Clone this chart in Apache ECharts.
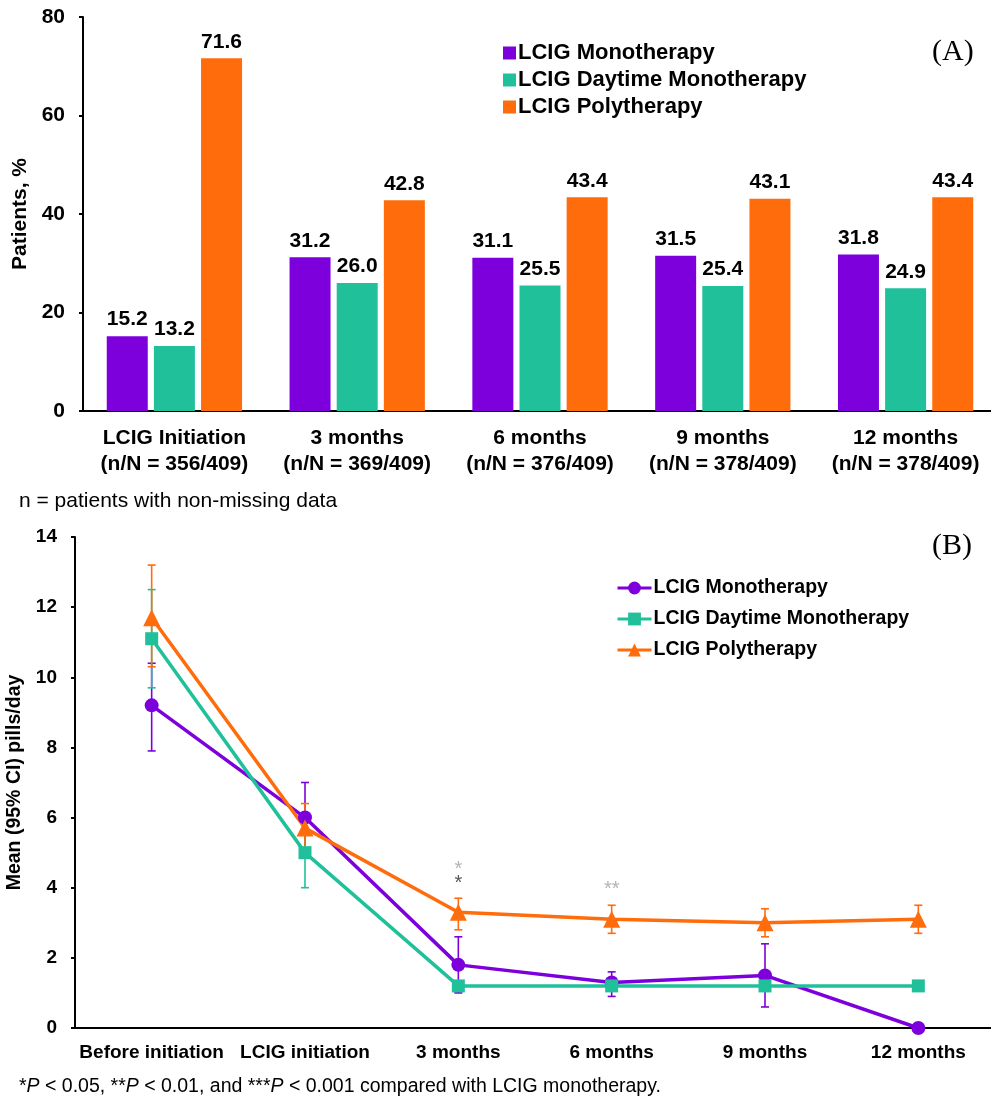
<!DOCTYPE html>
<html>
<head>
<meta charset="utf-8">
<script src="https://cdn.jsdelivr.net/npm/echarts@6/dist/echarts.min.js"></script>
<style>
  html, body { margin: 0; padding: 0; background: #fff; }
  #top { position: absolute; left: 0; top: 0; width: 991px; height: 520px; }
  #bottom { position: absolute; left: 0; top: 520px; width: 991px; height: 580px; }
</style>
</head>
<body>
<div id="top"></div>
<div id="bottom"></div>
<script>
// ---------- Panel A data ----------
const seriesNames = ['LCIG Monotherapy', 'LCIG Daytime Monotherapy', 'LCIG Polytherapy'];
const barCategories = ['LCIG Initiation', '3 months', '6 months', '9 months', '12 months'];
const barSubLabels = ['(n/N = 356/409)', '(n/N = 369/409)', '(n/N = 376/409)', '(n/N = 378/409)', '(n/N = 378/409)'];
const monoPct = [15.2, 31.2, 31.1, 31.5, 31.8];
const dayPct = [13.2, 26.0, 25.5, 25.4, 24.9];
const polyPct = [71.6, 42.8, 43.4, 43.1, 43.4];
const pctTicks = [0, 20, 40, 60, 80];

// ---------- Panel B data ----------
const timepoints = ['Before initiation', 'LCIG initiation', '3 months', '6 months', '9 months', '12 months'];
const monoMean = [9.2, 6.0, 1.8, 1.3, 1.5, 0.0];
const monoLow  = [7.9, 5.0, 1.0, 0.9, 0.6, 0.0];
const monoHigh = [10.4, 7.0, 2.6, 1.6, 2.4, 0.0];
const dayMean = [11.1, 5.0, 1.2, 1.2, 1.2, 1.2];
const dayLow  = [9.7, 4.0, 1.2, 1.2, 1.2, 1.2];
const dayHigh = [12.5, 6.0, 1.2, 1.2, 1.2, 1.2];
const polyMean = [11.7, 5.7, 3.3, 3.1, 3.0, 3.1];
const polyLow  = [10.3, 5.0, 2.8, 2.7, 2.6, 2.7];
const polyHigh = [13.2, 6.4, 3.7, 3.5, 3.4, 3.5];
const pillTicks = [0, 2, 4, 6, 8, 10, 12, 14];
// significance markers: [timepoint index, value position, text, shade]
const sigMarks = [
  [2, 4.65, '*', 'light'],
  [2, 4.25, '*', 'dark'],
  [3, 4.08, '**', 'light']
];

const COLORS = ['#7d00dc', '#20c09a', '#ff6c0c'];
const FONT = '"Liberation Sans", Arial, Helvetica, sans-serif';

// ---------------- Chart A ----------------
const chartA = echarts.init(document.getElementById('top'), null, { renderer: 'canvas' });
const barLabel = {
  show: true, position: 'top', distance: 6, color: '#000',
  fontFamily: FONT, fontWeight: 'bold', fontSize: 21,
  formatter: p => p.value.toFixed(1)
};
chartA.setOption({
  animation: false,
  textStyle: { fontFamily: FONT },
  grid: { left: 83, top: 17, width: 914, height: 394, outerBoundsMode: 'none', containLabel: false },
  legend: {
    left: 498, top: 37, orient: 'vertical', itemWidth: 13, itemHeight: 13, itemGap: 5,
    icon: 'rect', selectedMode: false,
    textStyle: { fontFamily: FONT, fontWeight: 'bold', fontSize: 22, lineHeight: 22, color: '#000', padding: [0, 0, 0, -3] },
    data: seriesNames
  },
  xAxis: {
    type: 'category', data: barCategories.map((c, i) => c + '\n' + barSubLabels[i]),
    axisLine: { lineStyle: { color: '#000', width: 2 } },
    axisTick: { alignWithLabel: true, length: 5, lineStyle: { color: '#000', width: 2 } },
    axisLabel: { interval: 0, margin: 14, color: '#000', fontFamily: FONT, fontWeight: 'bold', fontSize: 21, lineHeight: 26 }
  },
  yAxis: {
    type: 'value', min: pctTicks[0], max: pctTicks[pctTicks.length - 1], interval: 20,
    name: 'Patients, %', nameLocation: 'middle', nameGap: 45,
    nameTextStyle: { color: '#000', fontFamily: FONT, fontWeight: 'bold', fontSize: 21 },
    axisLine: { show: true, lineStyle: { color: '#000', width: 2 } },
    axisTick: { show: true, length: 4, lineStyle: { color: '#000', width: 2 } },
    splitLine: { show: false },
    axisLabel: { margin: 18, color: '#000', fontFamily: FONT, fontWeight: 'bold', fontSize: 21 }
  },
  series: [
    { name: seriesNames[0], type: 'bar', data: monoPct, barWidth: 41, barGap: '15%', itemStyle: { color: COLORS[0] }, label: barLabel },
    { name: seriesNames[1], type: 'bar', data: dayPct, barWidth: 41, barGap: '15%', itemStyle: { color: COLORS[1] }, label: barLabel },
    { name: seriesNames[2], type: 'bar', data: polyPct, barWidth: 41, barGap: '15%', itemStyle: { color: COLORS[2] }, label: barLabel }
  ],
  graphic: [
    { type: 'text', left: 932, top: 37, style: { text: '(A)', fill: '#000', font: '30px "Liberation Serif", "Times New Roman", serif' } },
    { type: 'text', left: 19, top: 491, style: { text: 'n = patients with non-missing data', fill: '#000', font: '21px ' + FONT } }
  ]
});

// ---------------- Chart B ----------------
const chartB = echarts.init(document.getElementById('bottom'), null, { renderer: 'canvas' });

function errorSeries(low, high, color) {
  const data = low.map((l, i) => [i, l, high[i]]).filter(d => d[2] - d[1] > 0.05);
  return {
    type: 'custom', data: data, z: 2, silent: true, clip: false,
    encode: { x: 0, y: [1, 2] },
    renderItem: function (params, api) {
      const x = api.value(0);
      const lo = api.coord([x, api.value(1)]);
      const hi = api.coord([x, api.value(2)]);
      const cap = 4;
      const st = { stroke: color, lineWidth: 1.6 };
      return {
        type: 'group',
        children: [
          { type: 'line', shape: { x1: lo[0], y1: lo[1], x2: hi[0], y2: hi[1] }, style: st },
          { type: 'line', shape: { x1: lo[0] - cap, y1: lo[1], x2: lo[0] + cap, y2: lo[1] }, style: st },
          { type: 'line', shape: { x1: hi[0] - cap, y1: hi[1], x2: hi[0] + cap, y2: hi[1] }, style: st }
        ]
      };
    }
  };
}

function lineSeries(name, data, color, symbol, size) {
  return {
    name: name, type: 'line', data: data, symbol: symbol, symbolSize: size, showSymbol: true,
    clip: false, z: 3,
    lineStyle: { color: color, width: 3.5 },
    itemStyle: { color: color }
  };
}

chartB.setOption({
  animation: false,
  textStyle: { fontFamily: FONT },
  grid: { left: 75, top: 17, width: 920, height: 491, outerBoundsMode: 'none', containLabel: false },
  legend: {
    left: 611, top: 53, orient: 'vertical', itemWidth: 34, itemHeight: 16, itemGap: 11,
    selectedMode: false,
    lineStyle: { width: 3 },
    textStyle: { fontFamily: FONT, fontWeight: 'bold', fontSize: 19.5, lineHeight: 20, color: '#000', padding: [0, 0, 0, -3] },
    data: seriesNames
  },
  xAxis: {
    type: 'category', data: timepoints, boundaryGap: true,
    axisLine: { lineStyle: { color: '#000', width: 2 } },
    axisTick: { alignWithLabel: true, length: 4, lineStyle: { color: '#000', width: 2 } },
    axisLabel: { interval: 0, margin: 15, color: '#000', fontFamily: FONT, fontWeight: 'bold', fontSize: 19 }
  },
  yAxis: {
    type: 'value', min: pillTicks[0], max: pillTicks[pillTicks.length - 1], interval: 2,
    name: 'Mean (95% CI) pills/day', nameLocation: 'middle', nameGap: 38,
    nameTextStyle: { color: '#000', fontFamily: FONT, fontWeight: 'bold', fontSize: 19.5 },
    axisLine: { show: true, lineStyle: { color: '#000', width: 2 } },
    axisTick: { show: true, length: 4, lineStyle: { color: '#000', width: 2 } },
    splitLine: { show: false },
    axisLabel: { margin: 18, color: '#000', fontFamily: FONT, fontWeight: 'bold', fontSize: 19 }
  },
  series: [
    errorSeries(monoLow, monoHigh, COLORS[0]),
    errorSeries(dayLow, dayHigh, COLORS[1]),
    errorSeries(polyLow, polyHigh, COLORS[2]),
    lineSeries(seriesNames[0], monoMean, COLORS[0], 'circle', 14),
    lineSeries(seriesNames[1], dayMean, COLORS[1], 'rect', 13),
    lineSeries(seriesNames[2], polyMean, COLORS[2], 'triangle', 17),
    {
      type: 'custom', data: sigMarks, silent: true, z: 4, clip: false,
      encode: { x: 0, y: 1 },
      renderItem: function (params, api) {
        const d = sigMarks[params.dataIndex];
        const p = api.coord([d[0], d[1]]);
        return {
          type: 'text', x: p[0], y: p[1] + 5,
          style: {
            text: d[2], fill: d[3] === 'light' ? '#b4b4b4' : '#555555',
            font: '20px ' + FONT, align: 'center', verticalAlign: 'middle'
          }
        };
      }
    }
  ],
  graphic: [
    { type: 'text', left: 932, top: 11, style: { text: '(B)', fill: '#000', font: '30px "Liberation Serif", "Times New Roman", serif' } },
    {
      type: 'text', left: 19, top: 557,
      style: {
        text: '{a|*}{i|P}{a| < 0.05, **}{i|P}{a| < 0.01, and ***}{i|P}{a| < 0.001 compared with LCIG monotherapy.}',
        rich: {
          a: { fontFamily: FONT, fontSize: 19.5, fill: '#000', color: '#000' },
          i: { fontFamily: FONT, fontSize: 19.5, fontStyle: 'italic', fill: '#000', color: '#000' }
        }
      }
    }
  ]
});
</script>
</body>
</html>
